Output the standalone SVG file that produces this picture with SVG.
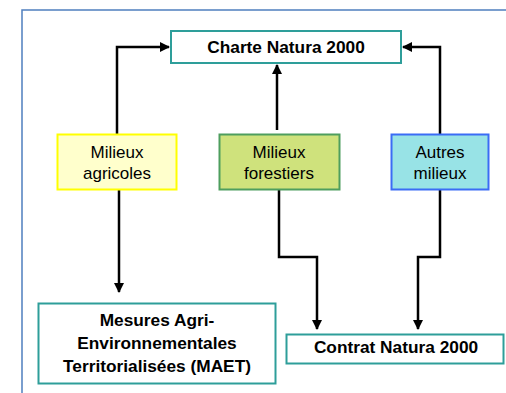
<svg xmlns="http://www.w3.org/2000/svg" width="506" height="393" viewBox="0 0 506 393">
<defs>
<marker id="ah" viewBox="0 0 10 10" refX="9" refY="5" markerWidth="4" markerHeight="4" markerUnits="strokeWidth" orient="auto">
<path d="M0,0 L10,5 L0,10 z" fill="#000"/>
</marker>
<style>
.frame{fill:none;stroke:#4f7fbf;stroke-width:1.5}
.out{fill:#fff;stroke:#2e9e9a;stroke-width:2}
.b{font-family:"Liberation Sans",Arial,sans-serif;font-weight:bold;font-size:17.3px;fill:#000;text-anchor:middle}
.r{font-family:"Liberation Sans",Arial,sans-serif;font-size:17px;fill:#000;text-anchor:middle}
.c{fill:none;stroke:#000;stroke-width:2.5;marker-end:url(#ah)}
</style>
</defs>
<rect width="506" height="393" fill="#fff"/>
<rect class="frame" x="22" y="10" width="500" height="400"/>
<g id="connectors">
<path class="c" d="M117,134 V47 H169"/>
<path class="c" d="M440,134 V47 H403"/>
<path class="c" d="M277,130 V65"/>
<path class="c" d="M119,190 V292"/>
<path class="c" d="M279,190 V257 H317 V329"/>
<path class="c" d="M440,190 V257 H418 V329"/>
</g>
<g id="charte">
<rect class="out" x="171" y="31" width="230" height="32"/>
<text class="b" x="286" y="53">Charte Natura 2000</text>
</g>
<g id="agricoles">
<rect x="57.5" y="134.5" width="119" height="55" fill="#ffffcc" stroke="#ffff00" stroke-width="2"/>
<text class="r" x="117" y="158">Milieux</text>
<text class="r" x="117" y="179">agricoles</text>
</g>
<g id="forestiers">
<rect x="219.5" y="134.5" width="120" height="55" fill="#cfe27c" stroke="#4e9e5e" stroke-width="2"/>
<text class="r" x="279" y="158">Milieux</text>
<text class="r" x="279" y="179">forestiers</text>
</g>
<g id="autres">
<rect x="391.5" y="134.5" width="97" height="55" fill="#98e3e6" stroke="#3b6cf5" stroke-width="2"/>
<text class="r" x="440" y="158">Autres</text>
<text class="r" x="440" y="179">milieux</text>
</g>
<g id="maet">
<rect class="out" x="38.5" y="303.5" width="237" height="80"/>
<text class="b" x="157" y="326">Mesures Agri-</text>
<text class="b" x="157" y="349">Environnementales</text>
<text class="b" x="157" y="372">Territorialisées (MAET)</text>
</g>
<g id="contrat">
<rect class="out" x="286.5" y="334.5" width="217" height="29"/>
<text class="b" x="396" y="353">Contrat Natura 2000</text>
</g>
</svg>
